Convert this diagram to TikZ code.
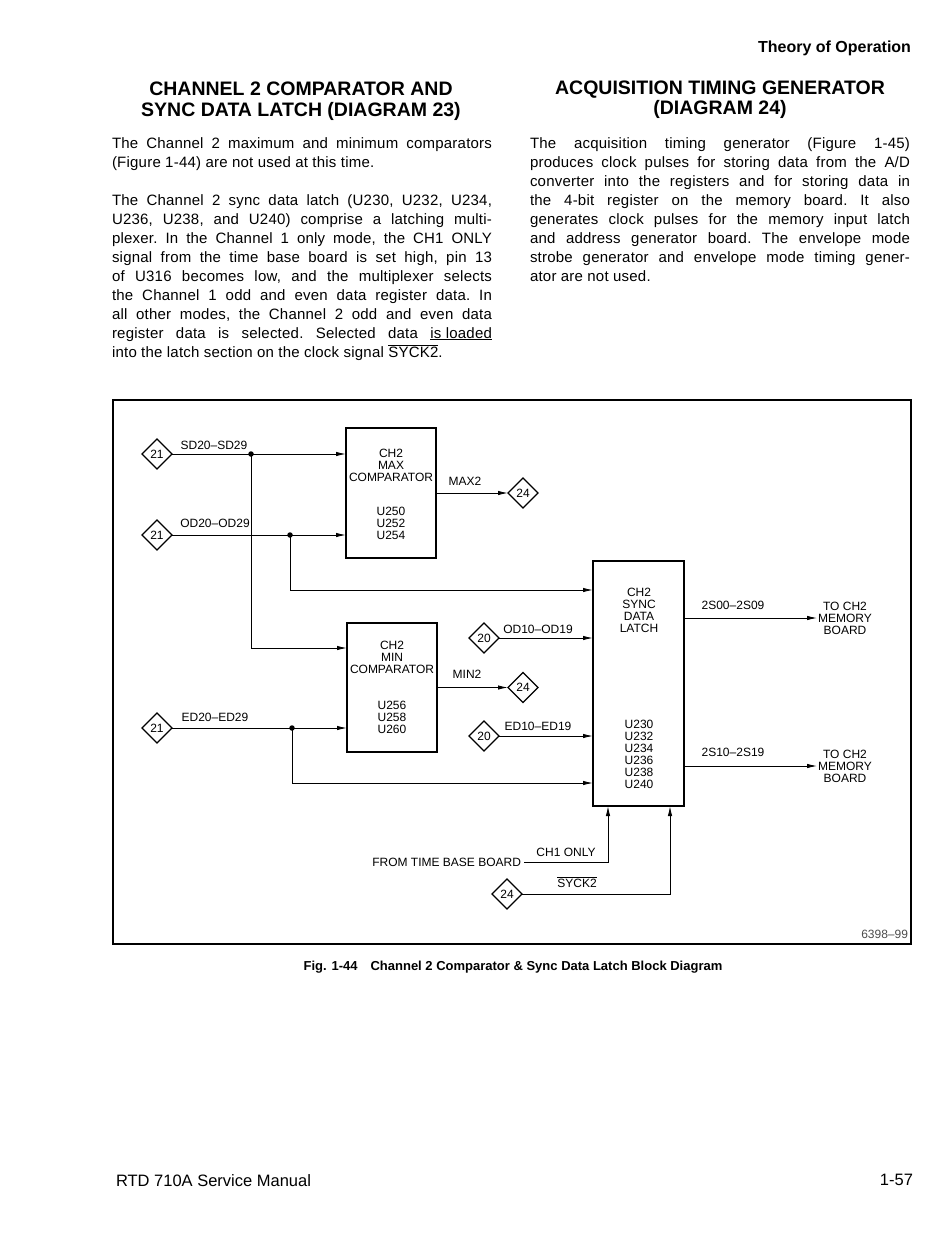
\documentclass[tikz,border=0pt]{standalone}
\usepackage{fontspec}
\setmainfont{Liberation Sans}
\usetikzlibrary{shapes.geometric,arrows.meta}
\newcommand{\jl}[1]{\makebox[380pt][s]{#1}}
\newcommand{\ovl}[1]{$\overline{\mbox{#1}}$}
\begin{document}
\begin{tikzpicture}[x=1pt,y=-1pt,
  every node/.style={inner sep=0pt,outer sep=0pt},
  blk/.style={draw,line width=1.1pt},
  wire/.style={line width=0.9pt},
  arr/.style={wire,-{Latex[length=10pt,width=4.4pt]}},
  diam/.style={draw,diamond,aspect=1,minimum size=30pt,line width=1.2pt,font=\fontsize{12}{12}\selectfont},
  dl/.style={font=\fontsize{12}{12}\selectfont,align=center},
  dot/.style={circle,fill,minimum size=5.5pt},
  body/.style={anchor=north west,text width=381pt,align=left,font=\fontsize{15}{19}\selectfont\addfontfeature{LetterSpace=1.5}},
  head/.style={align=center,font=\fontsize{19.5}{20.5}\selectfont\bfseries},
]
\useasboundingbox (0,0) rectangle (950,1237);
\fill[white] (0,0) rectangle (950,1237);

% page header
\node[anchor=east,font=\fontsize{16}{17}\selectfont\bfseries] (hdr) at (911,48) {Theory of Operation};

% left column
\node[head] (lh) at (301,101) {CHANNEL 2 COMPARATOR AND\\SYNC DATA LATCH (DIAGRAM 23)};
\node[body] (lt) at (112,137.2) {\spaceskip=0pt\xspaceskip=0pt\frenchspacing
\jl{The Channel 2 maximum and minimum comparators}\\
(Figure 1-44) are not used at this time.\\[19pt]
\jl{The Channel 2 sync data latch (U230, U232, U234,}\\
\jl{U236, U238, and U240) comprise a latching multi-}\\
\jl{plexer. In the Channel 1 only mode, the CH1 ONLY}\\
\jl{signal from the time base board is set high, pin 13}\\
\jl{of U316 becomes low, and the multiplexer selects}\\
\jl{the Channel 1 odd and even data register data. In}\\
\jl{all other modes, the Channel 2 odd and even data}\\
\jl{register data is selected. Selected data \underline{is loaded}}\\
into the latch section on the clock signal \ovl{SYCK2}.};

% right column
\node[head] (rh) at (720,99.5) {ACQUISITION TIMING GENERATOR\\(DIAGRAM 24)};
\node[body] (rt) at (530,137.2) {\spaceskip=0pt\xspaceskip=0pt\frenchspacing
\jl{The acquisition timing generator (Figure 1-45)}\\
\jl{produces clock pulses for storing data from the A/D}\\
\jl{converter into the registers and for storing data in}\\
\jl{the 4-bit register on the memory board. It also}\\
\jl{generates clock pulses for the memory input latch}\\
\jl{and address generator board. The envelope mode}\\
\jl{strobe generator and envelope mode timing gener-}\\
ator are not used.};

% diagram frame
\draw[line width=1.1pt] (113,400) rectangle (911,944);
\draw[line width=2pt] (112,944) -- (912,944);

% blocks
\node[blk,minimum width=90pt,minimum height=130pt] (maxc) at (391,493) {};
\node[dl] (maxt1) at (391,465) {CH2\\MAX\\COMPARATOR};
\node[dl] (maxt2) at (391,523) {U250\\U252\\U254};
\node[blk,minimum width=90pt,minimum height=129pt] (minc) at (392,687.5) {};
\node[dl] (mint1) at (392,657) {CH2\\MIN\\COMPARATOR};
\node[dl] (mint2) at (392,717) {U256\\U258\\U260};
\node[blk,minimum width=91pt,minimum height=245pt] (latch) at (638.5,683.5) {};
\node[dl] (lat1) at (639,610) {CH2\\SYNC\\DATA\\LATCH};
\node[dl] (lat2) at (639,754.5) {U230\\U232\\U234\\U236\\U238\\U240};

% off-page connectors
\node[diam] (d21a) at (157,454) {21};
\node[diam] (d21b) at (157,535) {21};
\node[diam] (d21c) at (157,728) {21};
\node[diam] (d24a) at (523,493) {24};
\node[diam] (d24b) at (523,687.5) {24};
\node[diam] (d20a) at (484,638) {20};
\node[diam] (d20b) at (484,736) {20};
\node[diam] (d24c) at (507,894) {24};

% junctions
\coordinate (j1) at (251,454);
\coordinate (j2) at (290,535);
\coordinate (j3) at (292,728);

% wires
\draw[arr] (d21a.east) -- (d21a.east -| maxc.west);
\draw[arr] (d21b.east) -- (d21b.east -| maxc.west);
\draw[arr] (d21c.east) -- (d21c.east -| minc.west);
\draw[arr] (j1) |- ([yshift=39.5pt]minc.west);
\draw[arr] (j2) |- ([yshift=93.5pt]latch.west);
\draw[arr] (j3) |- ([yshift=-99.5pt]latch.west);
\draw[arr] (maxc.east) -- (d24a.west);
\draw[arr] (minc.east) -- (d24b.west);
\draw[arr] (d20a.east) -- (d20a.east -| latch.west);
\draw[arr] (d20b.east) -- (d20b.east -| latch.west);
\node[dot] (dj1) at (j1) {};
\node[dot] (dj2) at (j2) {};
\node[dot] (dj3) at (j3) {};

% outputs
\node[dl] (mem1) at (845,618) {TO CH2\\MEMORY\\BOARD};
\node[dl] (mem2) at (845,766) {TO CH2\\MEMORY\\BOARD};
\draw[arr] (latch.east |- mem1.west) -- ([xshift=-1pt]mem1.west);
\draw[arr] (latch.east |- mem2.west) -- ([xshift=-1pt]mem2.west);

% bottom inputs
\node[dl,anchor=east] (ftb) at (521,862) {FROM TIME BASE BOARD};
\draw[arr] ([xshift=3pt]ftb.east) -| ([xshift=-30.5pt]latch.south);
\draw[arr] (d24c.east) -| ([xshift=31.5pt]latch.south);

% wire labels
\node[dl] (lsd) at (214,445) {SD20–SD29};
\node[dl] (lod) at (215,523) {OD20–OD29};
\node[dl] (led) at (215,717) {ED20–ED29};
\node[dl] (lmax) at (465,481) {MAX2};
\node[dl] (lmin) at (467,674) {MIN2};
\node[dl] (lod1) at (538,629) {OD10–OD19};
\node[dl] (led1) at (538,726) {ED10–ED19};
\node[dl] (l2s0) at (733,605) {2S00–2S09};
\node[dl] (l2s1) at (733,752) {2S10–2S19};
\node[dl] (lch1) at (566,852) {CH1 ONLY};
\node[dl] (lsy) at (577,882) {\ovl{SYCK2}};
\node[dl,anchor=east,text=black!70] (fign) at (908,934) {6398–99};

% caption
\node[font=\fontsize{13}{14}\selectfont\bfseries] (cap) at (513,967) {Fig. 1-44\quad Channel 2 Comparator \& Sync Data Latch Block Diagram};

% footer
\node[anchor=west,font=\fontsize{16.5}{17}\selectfont] (fl) at (116,1181) {RTD 710A Service Manual};
\node[anchor=east,font=\fontsize{16.5}{17}\selectfont] (fr) at (913,1180) {1-57};
\end{tikzpicture}
\end{document}
